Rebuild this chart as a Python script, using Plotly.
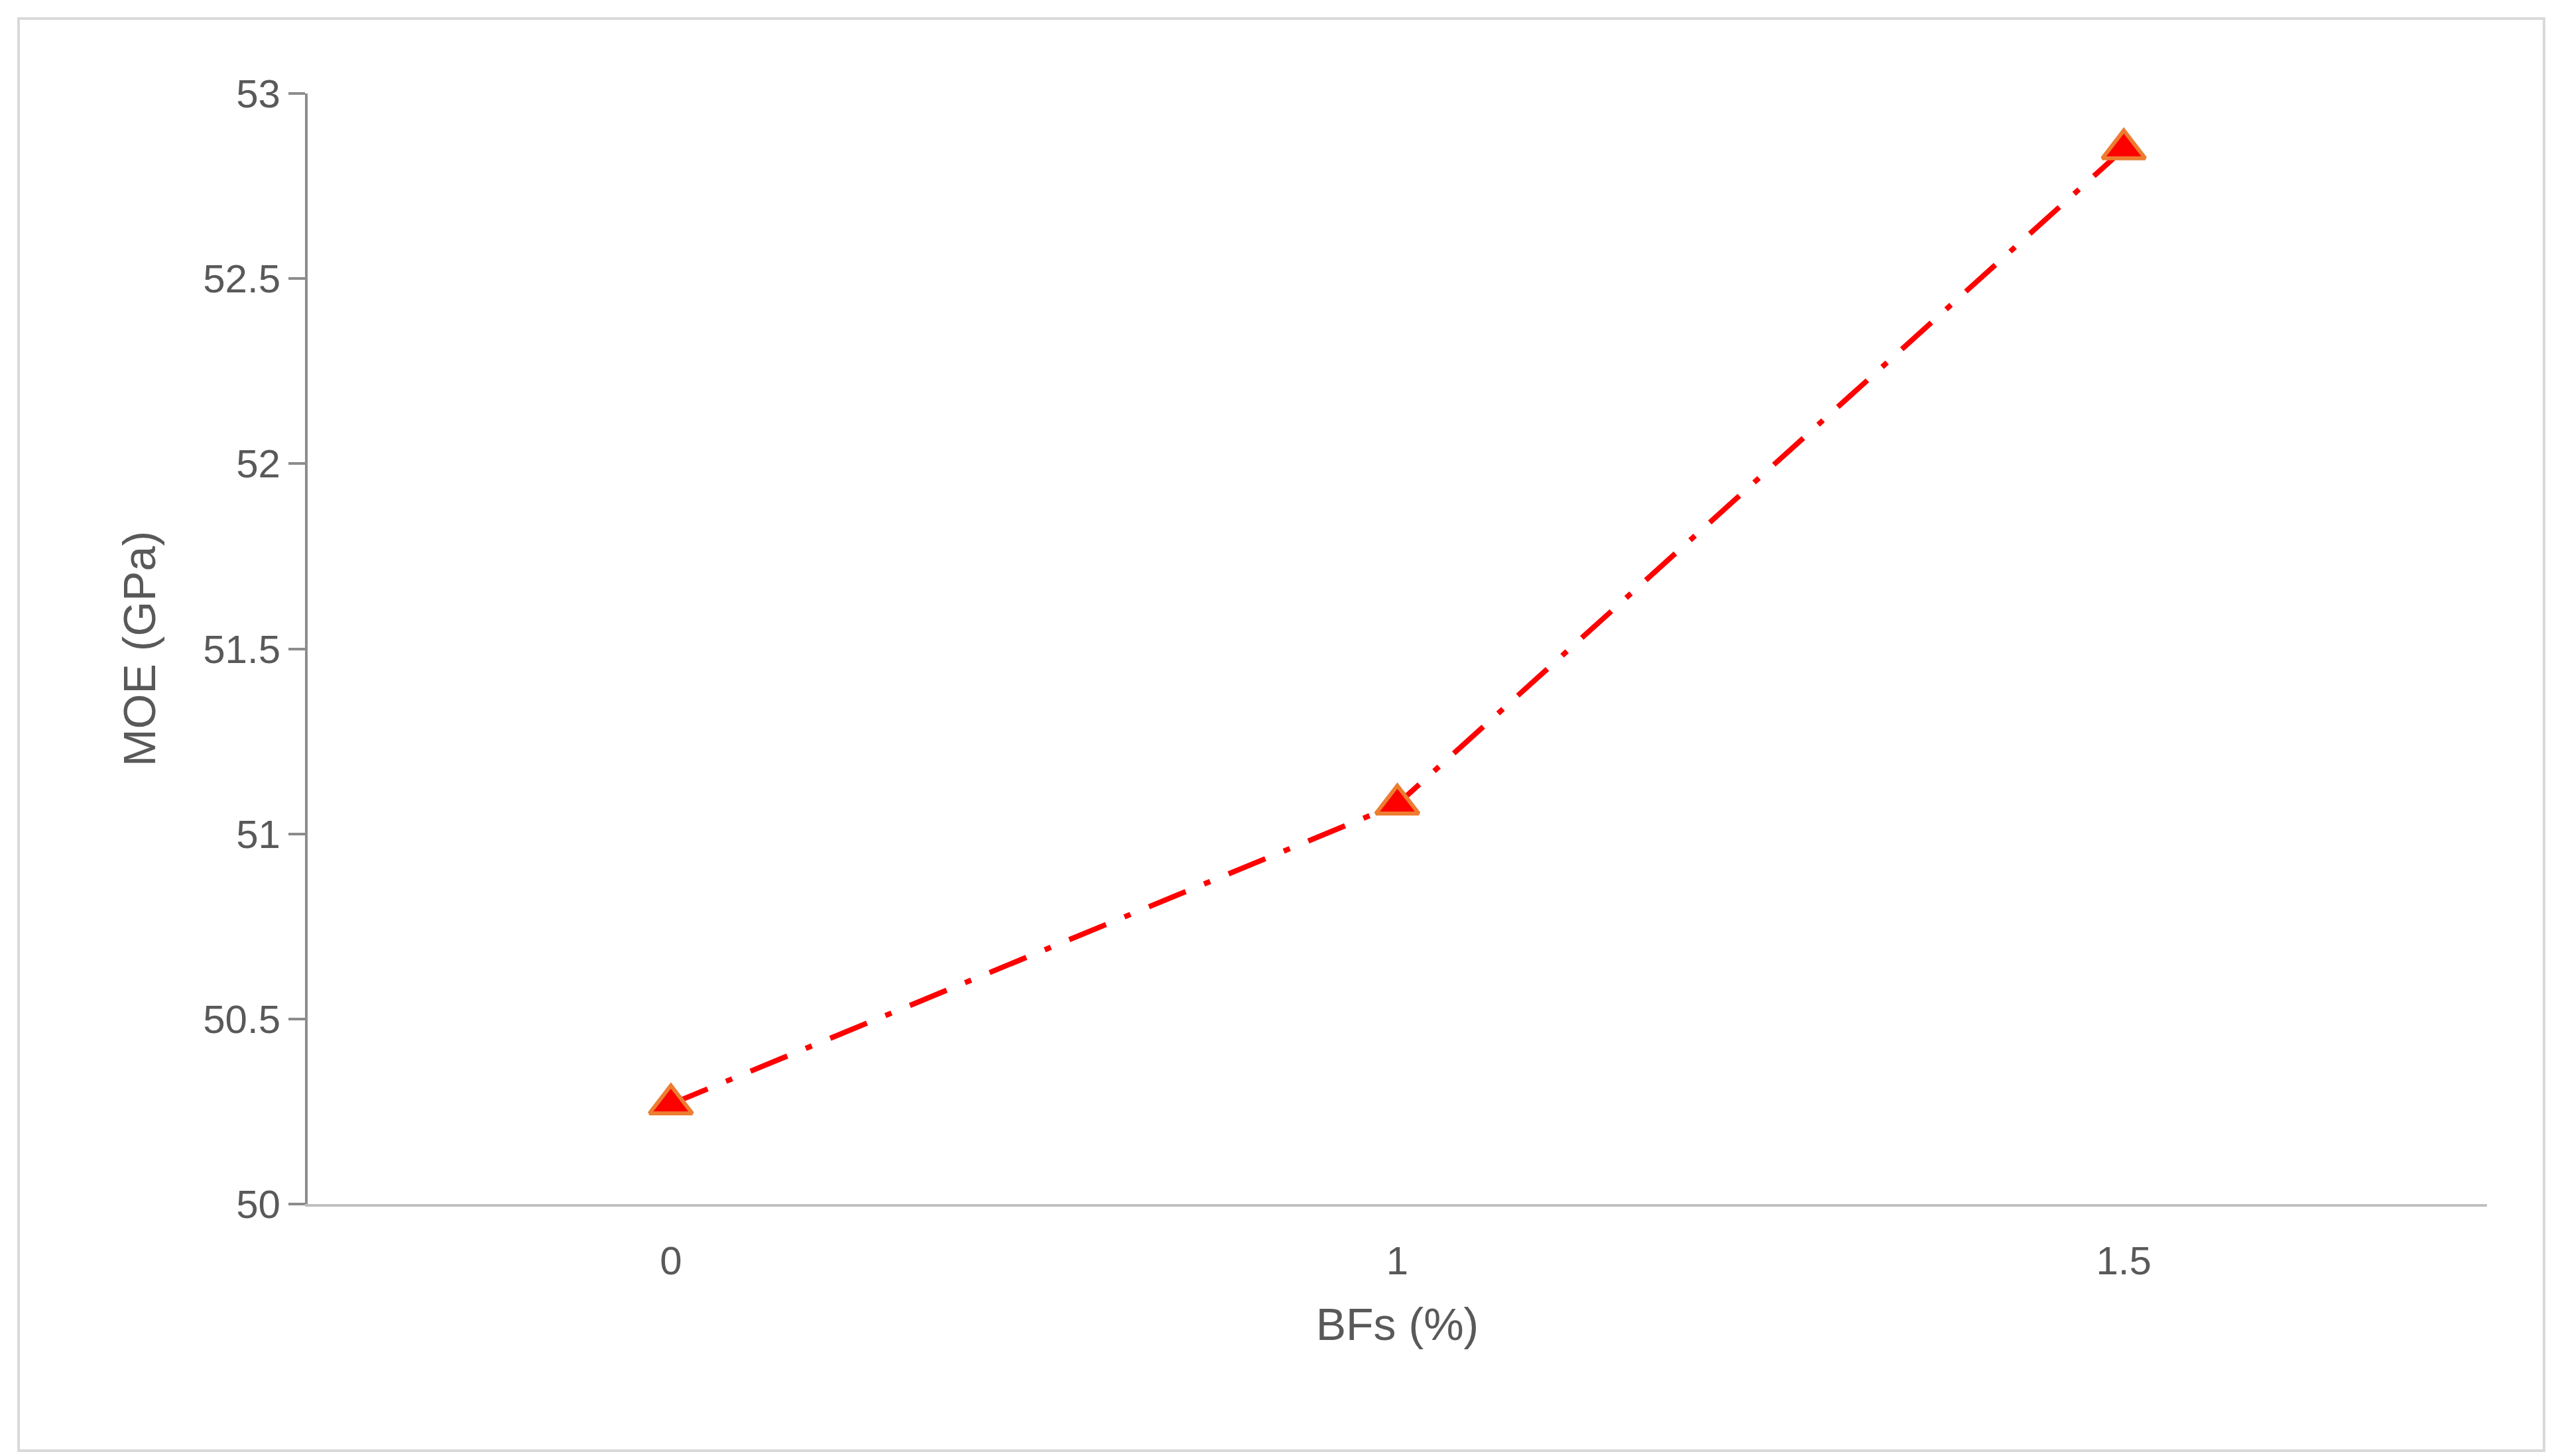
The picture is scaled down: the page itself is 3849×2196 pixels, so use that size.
import plotly.graph_objects as go

categories = ["0", "1", "1.5"]
moe = [50.27, 51.08, 52.85]
y_ticks = [50, 50.5, 51, 51.5, 52, 52.5, 53]

W, H = 3849, 2196
L, R, T, B = 456, 106, 133, 388
pw, ph = W - L - R, H - T - B

fig = go.Figure(go.Scatter(
    x=categories, y=moe, mode="lines+markers",
    line=dict(color="#ff0000", width=8, dash="60px,30px,10px,30px"),
    marker=dict(symbol="triangle-up", size=56, color="#ff0000",
                line=dict(color="#ed7d31", width=6)),
))
font = "Liberation Sans, Open Sans, sans-serif"
fig.update_layout(
    width=W, height=H, margin=dict(l=L, r=R, t=T, b=B),
    paper_bgcolor="white", plot_bgcolor="white", showlegend=False,
    font=dict(family=font, size=60, color="#595959"),
    xaxis=dict(type="category", range=[-0.5, 2.5], showgrid=False, showline=True,
               linecolor="#bfbfbf", linewidth=4, ticks="outside", ticklen=30,
               tickcolor="rgba(0,0,0,0)", tickfont=dict(size=60, color="#595959"),
               title=dict(text="BFs (%)", font=dict(size=68, color="#595959"), standoff=40)),
    yaxis=dict(range=[50, 53], tickvals=y_ticks, ticktext=[str(v) for v in y_ticks],
               showgrid=False, showline=True, linecolor="#8c8c8c", linewidth=4,
               ticks="outside", ticklen=25, tickwidth=4, tickcolor="#8c8c8c",
               tickfont=dict(size=60, color="#595959"),
               title=dict(text="MOE (GPa)", font=dict(size=68, color="#595959"), standoff=50)),
    shapes=[dict(type="rect", xref="paper", yref="paper",
                 x0=-(L - 20) / pw, x1=1 + (R - 20) / pw,
                 y0=-(B - 16) / ph, y1=1 + (T - 20) / ph,
                 line=dict(color="#d9d9d9", width=4))],
)
fig.write_html("out.html")
